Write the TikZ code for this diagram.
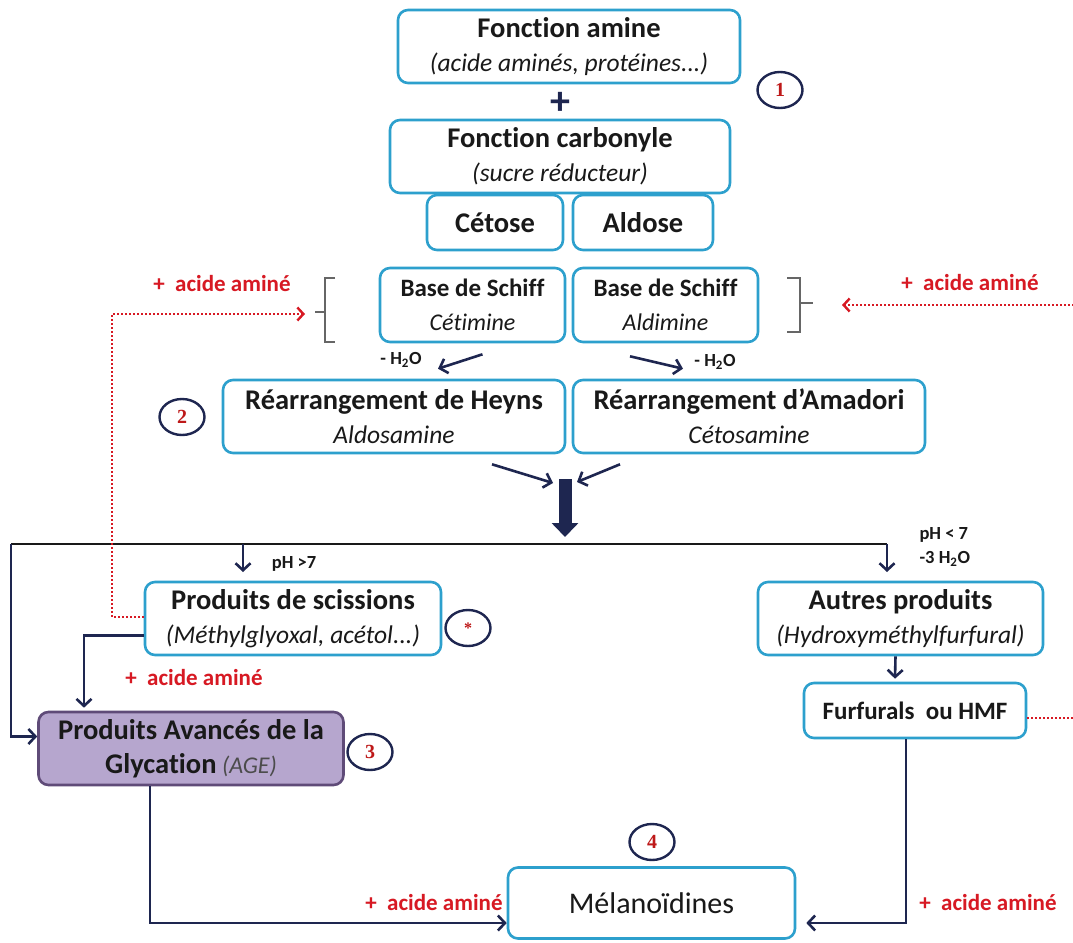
\documentclass[tikz,border=0pt]{standalone}
\usepackage{fontspec}
\setmainfont{Carlito}[Ligatures=NoCommon]
\newfontfamily\numfont{Liberation Serif}
\usetikzlibrary{arrows.meta,calc,shapes.geometric}

\definecolor{boxblue}{RGB}{45,160,205}
\definecolor{navy}{RGB}{30,38,80}
\definecolor{redtxt}{RGB}{215,25,35}
\definecolor{numred}{RGB}{190,25,25}
\definecolor{agefill}{RGB}{182,166,206}
\definecolor{ageline}{RGB}{95,75,120}
\definecolor{ink}{RGB}{25,25,25}

% text helpers
\newcommand\boxhead[1]{{\fontsize{28.5}{34}\selectfont\bfseries #1}}
\newcommand\boxsub[1]{{\fontsize{25.5}{34}\selectfont\itshape #1}}
\newcommand\smallhead[1]{{\fontsize{25}{32}\selectfont\bfseries #1}}
\newcommand\smallsub[1]{{\fontsize{24}{32}\selectfont\itshape #1}}

\begin{document}
\begin{tikzpicture}[x=1pt,y=-1pt,
  box/.style={draw=boxblue, line width=2.6pt, rounded corners=10pt, fill=white,
    align=center, inner sep=0pt, text=ink, font=\fontsize{25}{34}\selectfont},
  agebox/.style={box, draw=ageline, fill=agefill},
  numc/.style={ellipse, draw=navy, line width=2.4pt, minimum width=45, minimum height=36,
    inner sep=0pt, text=numred, font=\numfont\bfseries\fontsize{20}{20}\selectfont},
  flow/.style={draw=navy, line width=2.6pt,
    -{Straight Barb[length=7pt,width=15pt,line width=2.6pt]}},
  bus/.style={draw=ink, line width=2pt},
  feed/.style={draw=redtxt, line width=2pt, dash pattern=on 2pt off 2pt,
    -{Straight Barb[length=6pt,width=13pt,line width=2.4pt]}},
  bracket/.style={draw=black!60, line width=1.2pt},
  addtxt/.style={text=redtxt, font=\fontsize{23}{23}\selectfont\bfseries},
  cond/.style={text=ink, font=\fontsize{18.5}{24}\selectfont\bfseries},
]
\useasboundingbox[fill=white] (0,0) rectangle (1073,942);

% stage 1: reactants
\node[box, minimum width=342, minimum height=73] (amine) at (569,46.5)
  {\boxhead{Fonction amine}\\\boxsub{(acide aminés, protéines...)}};
\node[text=navy, font=\fontsize{40}{40}\selectfont\bfseries] (plus) at (560,103) {+};
\node[box, minimum width=340, minimum height=73] (carb) at (560,156.5)
  {\boxhead{Fonction carbonyle}\\\boxsub{(sucre réducteur)}};
\node[box, minimum width=136, minimum height=55] (cetose) at (495,222.5) {\boxhead{Cétose}};
\node[box, minimum width=140, minimum height=55] (aldose) at (643,222.5) {\boxhead{Aldose}};
\node[numc] (n1) at (780,90) {1};

% Schiff bases
\node[box, minimum width=185, minimum height=74] (cetim) at (472.5,305)
  {\smallhead{Base de Schiff}\\\smallsub{Cétimine}};
\node[box, minimum width=185, minimum height=74] (aldim) at (665.5,305)
  {\smallhead{Base de Schiff}\\\smallsub{Aldimine}};

% brackets around the Schiff bases
\draw[bracket] (335,278) -- (325,278) -- (325,342) -- (335,342) (325,312) -- (315,312);
\draw[bracket] (787,278) -- (800,278) -- (800,332) -- (787,332) (800,303) -- (813,303);
\coordinate (bl) at (305,314);
\coordinate (br) at (842,305);
\node[addtxt] (aaTL) at (222,284) {+\ \ acide aminé};
\node[addtxt] (aaTR) at (970,283) {+\ \ acide aminé};

% stage 2: rearrangements
\node[box, minimum width=342, minimum height=73] (heyns) at (394,416.5)
  {\boxhead{Réarrangement de Heyns}\\\boxsub{Aldosamine}};
\node[box, minimum width=352, minimum height=73] (amad) at (749,416.5)
  {\boxhead{Réarrangement d’Amadori}\\\boxsub{Cétosamine}};
\node[numc] (n2) at (182,417) {2};

\draw[flow] ($(cetim.south)+(10,11)$) -- ($(heyns.north)+(44,-10)$);
\draw[flow] ($(aldim.south)+(-35.5,13)$) -- ($(amad.north)+(-66,-10)$);
\node[cond] (h2oL) at (401,360) {- H\textsubscript{2}O};
\node[cond] (h2oR) at (715,362) {- H\textsubscript{2}O};

% merging into the main branch
\coordinate (merge) at (565,479);
\coordinate (split) at (565,544);
\draw[flow] ($(heyns.south)+(98,10)$) -- ($(merge)+(-12,4)$);
\draw[flow] ($(amad.south)+(-129,10)$) -- ($(merge)+(12,3)$);
\draw[navy, line width=13pt, -{Triangle[length=14pt,width=26pt]}] (merge) -- ($(split)+(0,-7)$);

% branching bus
\coordinate (busL) at (11,544);
\coordinate (busM) at (243,544);
\coordinate (busR) at (887,544);
\draw[bus] (busL) -- (busR);
\draw[flow] (busM) -- ++(0,28);
\draw[flow] (busR) -- ++(0,28);
\node[cond] (phA) at (294,564) {pH >7};
\node[cond, align=left, anchor=west] (phB) at (916,547) {pH < 7\\-3 H\textsubscript{2}O};

% stage 3
\node[box, minimum width=296, minimum height=73] (sciss) at (293,618.5)
  {\boxhead{Produits de scissions}\\\boxsub{(Méthylglyoxal, acétol...)}};
\node[numc, font=\numfont\bfseries\fontsize{16}{16}\selectfont] (nstar) at (468,628) {*};
\node[box, minimum width=285, minimum height=73] (autres) at (900.5,618.5)
  {\boxhead{Autres produits}\\\boxsub{(Hydroxyméthylfurfural)}};
\node[box, minimum width=222, minimum height=55] (furf) at (915,710.5)
  {\smallhead{Furfurals\ \ ou HMF}};
\node[agebox, minimum width=305, minimum height=73] (age) at (191,748.5)
  {\boxhead{Produits Avancés de la}\\\boxhead{Glycation} {\fontsize{24}{34}\selectfont\itshape\color{black!70}(AGE)}};
\node[numc] (n3) at (370,752) {3};
\node[addtxt] (aaM) at (194,678) {+\ \ acide aminé};

\draw[flow] (busL) |- ($(age.west)+(0,-12)$);
\draw[flow] ($(sciss.west)+(0,17)$) -| ($(age.north)+(-107,-3)$);
\draw[flow] ($(autres.south)+(-5,0)$) -- ($(furf.north)+(-20,-3)$);

% red feedback loops
\coordinate (fl) at (112,314);
\coordinate (fr) at (1076,305);
\draw[feed] ($(sciss.west)+(0,-1.5)$) -| (fl) -- (bl);
\draw[feed] ($(furf.east)+(0,7.5)$) -| (fr) -- (br);

% stage 4
\node[box, minimum width=287, minimum height=71] (mel) at (651.5,903)
  {{\fontsize{30}{34}\selectfont Mélanoïdines}};
\node[numc] (n4) at (652,842) {4};
\node[addtxt] (aaBL) at (434,903) {+\ \ acide aminé};
\node[addtxt] (aaBR) at (988,903) {+\ \ acide aminé};
\draw[flow] ($(age.south)+(-41,0)$) |- ($(mel.west)+(0,20)$);
\draw[flow] ($(furf.south)+(-9,0)$) |- ($(mel.east)+(10,20)$);
\end{tikzpicture}
\end{document}
